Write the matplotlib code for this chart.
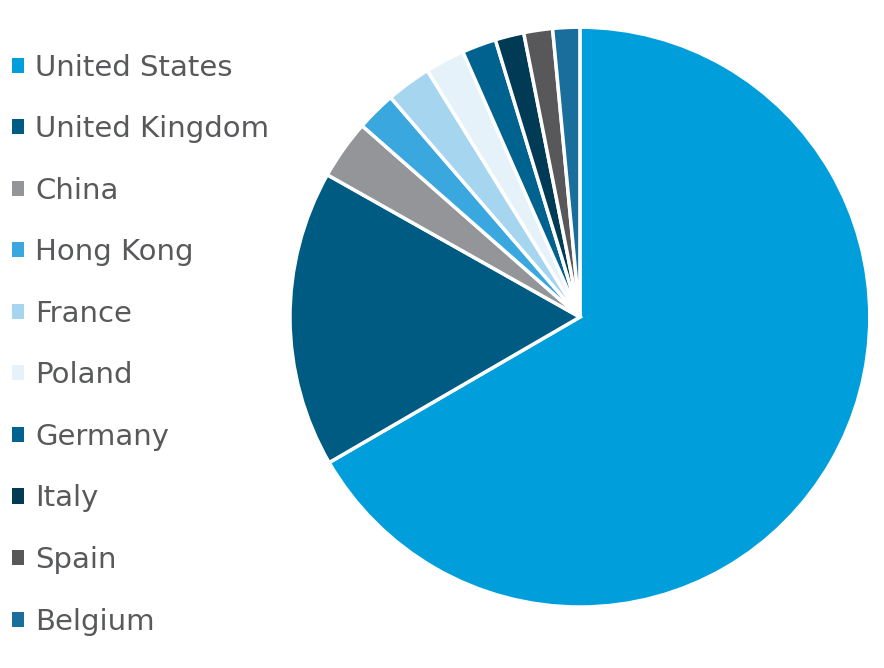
import matplotlib
matplotlib.use("Agg")
import matplotlib.pyplot as plt

countries = ["United States", "United Kingdom", "China", "Hong Kong", "France",
             "Poland", "Germany", "Italy", "Spain", "Belgium"]
shares = [66.5, 16.5, 3.3, 2.2, 2.5, 2.2, 1.9, 1.6, 1.6, 1.5]
colors = ["#009fdb", "#005b82", "#939598", "#3aa8df", "#a6d5f0",
          "#e6f2fa", "#00628f", "#003a55", "#58585a", "#1a6e9c"]

plt.rcParams['font.family'] = ['DejaVu Sans']

fig = plt.figure(figsize=(8.84, 6.68), dpi=100)
ax = fig.add_axes([0.328, 0.0913, 0.656, 0.868])

wedges, _ = ax.pie(shares, colors=colors, startangle=90, counterclock=False,
                   wedgeprops=dict(edgecolor="white", linewidth=2.5))
ax.set_xlim(-1, 1)
ax.set_ylim(-1, 1)
ax.set_aspect("equal")

leg = fig.legend(wedges, countries, loc="upper left", bbox_to_anchor=(-0.016, 0.959),
                 frameon=False, fontsize=21, labelspacing=1.15,
                 handlelength=0.42, handleheight=0.42, handletextpad=0.38)
for t in leg.get_texts():
    t.set_color("#58595b")
for h in leg.legend_handles:
    h.set_edgecolor("none")

fig.savefig("out.png", dpi=100)
